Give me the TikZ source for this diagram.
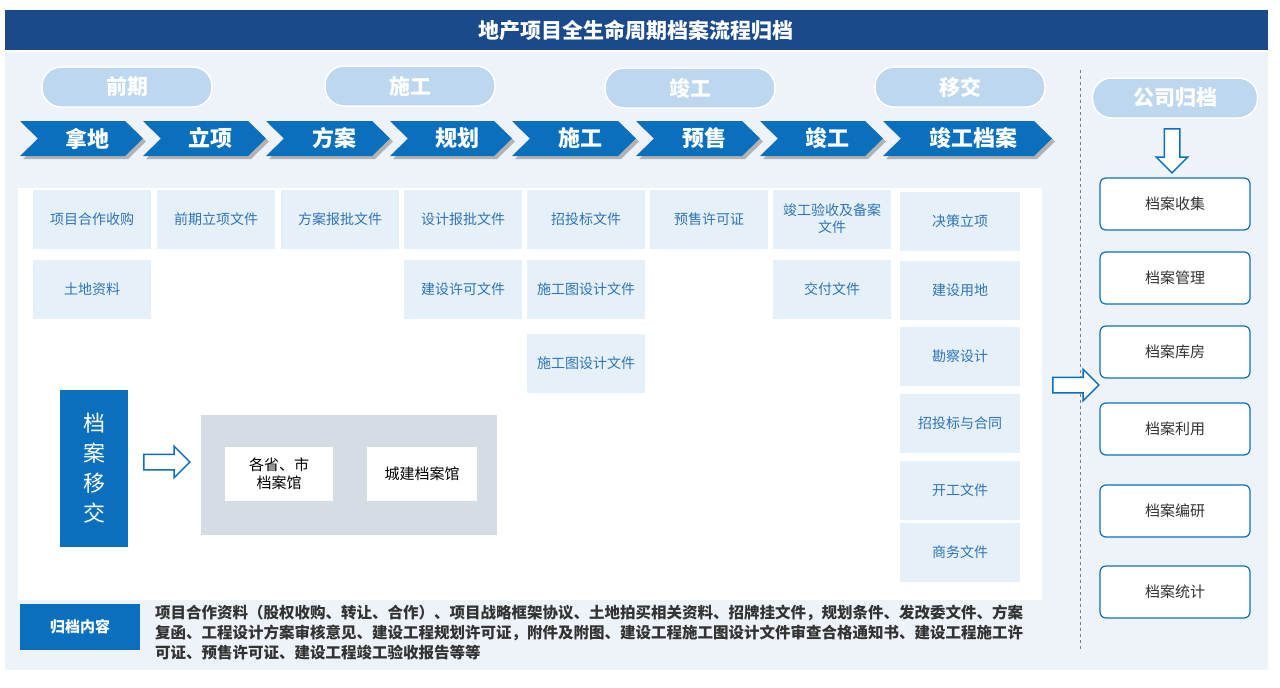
\documentclass[tikz,border=0pt]{standalone}
\usepackage{fontspec}
\setmainfont{Noto Sans CJK SC}
\usetikzlibrary{shapes.arrows}
\definecolor{dblue}{HTML}{1A4A8A}
\definecolor{mblue}{HTML}{0A70BE}
\definecolor{lblue}{HTML}{BDD7EE}
\definecolor{pbg}{HTML}{EEF3F9}
\definecolor{dbox}{HTML}{E6F0F9}
\definecolor{dtxt}{HTML}{2E75B6}
\definecolor{gbox}{HTML}{D6DCE4}
\tikzset{
 phase/.style={fill=lblue,draw=white,line width=1.5pt,rounded corners=19pt,minimum height=40pt,text=white,font=\bfseries\fontsize{21}{21}\selectfont},
 doc/.style={fill=dbox,text=dtxt,font=\fontsize{14}{17}\selectfont,align=center,minimum width=118pt,minimum height=59pt,inner sep=1pt},
 rbox/.style={fill=white,draw=mblue,line width=1.2pt,rounded corners=6pt,minimum width=150pt,minimum height=52pt,font=\fontsize{15}{17}\selectfont,text=black!80},
 hollow/.style={single arrow,draw=mblue,fill=white,line width=1.5pt,single arrow head extend=8pt,minimum height=46pt,inner sep=7pt},
}
\newcommand{\chev}[3]{%
 \fill[gray!60] (#1+3,124) -- (#1+#2-18+3,124) -- (#1+#2+3,141.5) -- (#1+#2-18+3,159) -- (#1+3,159) -- (#1+18+3,141.5) -- cycle;
 \fill[mblue] (#1,121) -- (#1+#2-18,121) -- (#1+#2,138.5) -- (#1+#2-18,156) -- (#1,156) -- (#1+18,138.5) -- cycle;
 \node[text=white,font=\bfseries\fontsize{22}{22}\selectfont] (c#1) at (#1+#2/2+6,138.5) {#3};}
\begin{document}
\begin{tikzpicture}[x=1pt,y=-1pt]
\useasboundingbox (0,0) rectangle (1280,688);
\fill[white] (0,0) rectangle (1280,688);
\fill[dblue] (5,10) rectangle (1268,50);
\node[text=white,font=\bfseries\fontsize{21}{21}\selectfont] (title) at (636,30) {地产项目全生命周期档案流程归档};
\fill[pbg] (5,52) rectangle (1268,670);
\fill[white] (18,188) rectangle (1042,600);
% phases
\node[phase,minimum width=170pt] (p1) at (127,87) {前期};
\node[phase,minimum width=170pt] (p2) at (410,86) {施工};
\node[phase,minimum width=170pt] (p3) at (690,88) {竣工};
\node[phase,minimum width=170pt] (p4) at (960,87) {移交};
\node[phase,minimum width=165pt] (p5) at (1175,98) {公司归档};
% chevrons
\chev{20}{123}{拿地}
\chev{143}{123}{立项}
\chev{266}{124}{方案}
\chev{390}{122}{规划}
\chev{512}{124}{施工}
\chev{636}{124}{预售}
\chev{760}{123}{竣工}
\chev{883}{169}{竣工档案}
% docs
\node[doc] (d11) at (92,219) {项目合作收购};
\node[doc] (d12) at (92,289) {土地资料};
\node[doc] (d21) at (216,219) {前期立项文件};
\node[doc] (d31) at (340,219) {方案报批文件};
\node[doc] (d41) at (463,219) {设计报批文件};
\node[doc] (d42) at (463,289) {建设许可文件};
\node[doc] (d51) at (586,219) {招投标文件};
\node[doc] (d52) at (586,289) {施工图设计文件};
\node[doc] (d53) at (586,363) {施工图设计文件};
\node[doc] (d61) at (709,219) {预售许可证};
\node[doc] (d71) at (832,219) {竣工验收及备案\\文件};
\node[doc] (d72) at (832,289) {交付文件};
\node[doc,minimum width=120pt] (d81) at (960,221) {决策立项};
\node[doc,minimum width=120pt] (d82) at (960,290) {建设用地};
\node[doc,minimum width=120pt] (d83) at (960,356) {勘察设计};
\node[doc,minimum width=120pt] (d84) at (960,423) {招投标与合同};
\node[doc,minimum width=120pt] (d85) at (960,490) {开工文件};
\node[doc,minimum width=120pt] (d86) at (960,552) {商务文件};
% transfer
\node[fill=mblue,text=white,minimum width=68pt,minimum height=157pt,align=center,font=\fontsize{22}{30}\selectfont] (tr) at (94,468) {档\\案\\移\\交};
\node[hollow] (a1) at (163,462) {};
\node[fill=gbox,minimum width=296pt,minimum height=120pt] (gb) at (349,475) {};
\node[fill=white,minimum width=108pt,minimum height=54pt,align=center,font=\fontsize{15}{18}\selectfont] (w1) at (279,474) {各省、市\\档案馆};
\node[fill=white,minimum width=110pt,minimum height=54pt,font=\fontsize{15}{18}\selectfont] (w2) at (422,474) {城建档案馆};
% bottom
\node[fill=mblue,text=white,minimum width=120pt,minimum height=46pt,font=\bfseries\fontsize{15}{17}\selectfont] (gd) at (80,627) {归档内容};
\node[anchor=north west,align=left,text=black!80,font=\bfseries\fontsize{15.5}{20}\selectfont,inner sep=0pt] (gt) at (155,605) {项目合作资料（股权收购、转让、合作）、项目战略框架协议、土地拍买相关资料、招牌挂文件，规划条件、发改委文件、方案\\复函、工程设计方案审核意见、建设工程规划许可证，附件及附图、建设工程施工图设计文件审查合格通知书、建设工程施工许\\可证、预售许可证、建设工程竣工验收报告等等};
% right
\draw[gray,dashed,line width=1pt] (1080,70) -- (1080,650);
\node[hollow,rotate=-90,minimum height=44pt] (a2) at (1172,147) {};
\node[hollow] (a3) at (1072,385) {};
\node[rbox] (r1) at (1175,204) {档案收集};
\node[rbox] (r2) at (1175,278) {档案管理};
\node[rbox] (r3) at (1175,352) {档案库房};
\node[rbox] (r4) at (1175,429) {档案利用};
\node[rbox] (r5) at (1175,511) {档案编研};
\node[rbox] (r6) at (1175,592) {档案统计};
\end{tikzpicture}
\end{document}
